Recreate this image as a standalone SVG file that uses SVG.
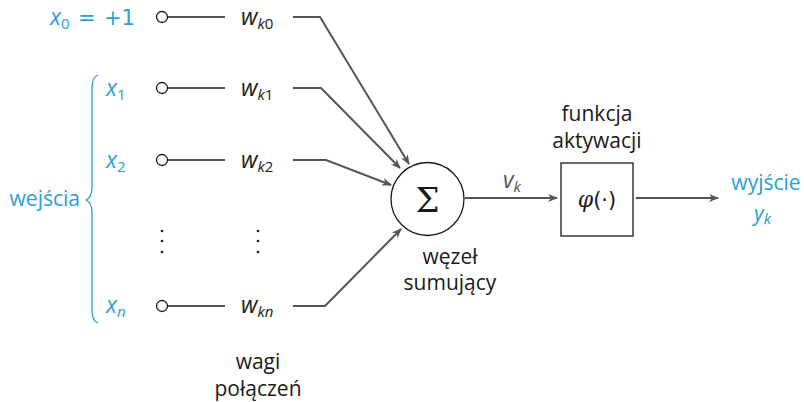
<svg xmlns="http://www.w3.org/2000/svg" width="804" height="402" viewBox="0 0 804 402">
<style>
text{font-family:"Open Sans","DejaVu Sans",sans-serif;font-size:21px;fill:#1a1a1a}
.b{fill:#2a9fd8}
.m{font-style:italic;font-size:23px}
.s{font-size:15px;font-style:italic}
.n{font-style:normal}
.c{text-anchor:middle}
.sym{font-family:"DejaVu Sans",sans-serif;font-size:21px}
.sig{font-family:"DejaVu Serif",serif;font-size:34px}
.phi{font-family:"DejaVu Serif",serif;font-style:italic;font-size:22px}
.ln{stroke:#555;stroke-width:2;fill:none}
.in{stroke:#1a1a1a;stroke-width:1.3;fill:#fff}
</style>
<defs>
<marker id="ah" viewBox="0 0 10 10" refX="9" refY="5" markerWidth="5" markerHeight="5" orient="auto" markerUnits="strokeWidth">
<path d="M0,1 L10,5 L0,9 L3,5 Z" fill="#555"/>
</marker>
</defs>
<g id="inputs">
<text class="b m" x="50" y="25">x<tspan class="s n" dy="4">0</tspan></text>
<text class="b sym" x="78" y="25">=</text>
<text class="b sym" x="104" y="25">+1</text>
<text class="b m" x="106" y="96">x<tspan class="s n" dy="4">1</tspan></text>
<text class="b m" x="106" y="168">x<tspan class="s n" dy="4">2</tspan></text>
<text class="b m" x="106" y="313">x<tspan class="s" dy="4">n</tspan></text>
<text class="b" x="80" y="206" text-anchor="end">wejścia</text>
<path d="M98,75 Q92,77 92,88 L92,188 Q92,197 86,200 Q92,203 92,212 L92,310 Q92,321 98,323" stroke="#2a9fd8" stroke-width="1.3" fill="none"/>
<circle class="in" cx="162" cy="17" r="5.5"/>
<circle class="in" cx="162" cy="88" r="5.5"/>
<circle class="in" cx="162" cy="160" r="5.5"/>
<circle class="in" cx="162" cy="306" r="5.5"/>
<g fill="#1a1a1a"><circle cx="162" cy="231" r="1.3"/><circle cx="162" cy="241" r="1.3"/><circle cx="162" cy="252" r="1.3"/>
<circle cx="258" cy="231" r="1.3"/><circle cx="258" cy="241" r="1.3"/><circle cx="258" cy="252" r="1.3"/></g>
</g>
<g id="weights">
<text class="m" x="241" y="25">w<tspan class="s" dy="4">k</tspan><tspan class="s n">0</tspan></text>
<text class="m" x="241" y="96">w<tspan class="s" dy="4">k</tspan><tspan class="s n">1</tspan></text>
<text class="m" x="241" y="168">w<tspan class="s" dy="4">k</tspan><tspan class="s n">2</tspan></text>
<text class="m" x="241" y="313">w<tspan class="s" dy="4">kn</tspan></text>
<text class="c" x="258" y="369">wagi</text>
<text class="c" x="258" y="396">połączeń</text>
</g>
<g id="sum">
<circle cx="427.5" cy="199" r="36.5" fill="#fff" stroke="#1a1a1a" stroke-width="1.3"/>
<text class="c sig" x="427.5" y="212">Σ</text>
<text class="c" x="450" y="264">węzeł</text>
<text class="c" x="450" y="290">sumujący</text>
</g>
<g id="activation">
<rect x="561" y="163" width="72" height="73" fill="#fff" stroke="#1a1a1a" stroke-width="1.3"/>
<text class="c" x="597" y="207"><tspan class="phi">φ</tspan><tspan class="sym">(·)</tspan></text>
<text class="c" x="597" y="121">funkcja</text>
<text class="c" x="597" y="148">aktywacji</text>
</g>
<g id="output">
<text class="b c" x="766" y="190">wyjście</text>
<text class="b m" x="754" y="221" style="font-size:21px">y<tspan class="s" dy="3">k</tspan></text>
</g>
<g id="connectors">
<path class="ln" d="M168,17 H225 M168,88 H225 M168,160 H225 M168,306 H225"/>
<path class="ln" d="M293,17 H320 L409,164" marker-end="url(#ah)"/>
<path class="ln" d="M293,88 H321 L400,168" marker-end="url(#ah)"/>
<path class="ln" d="M293,160 H326 L391,185" marker-end="url(#ah)"/>
<path class="ln" d="M293,306 H325 L401,229" marker-end="url(#ah)"/>
<path class="ln" d="M465,198 H557" marker-end="url(#ah)"/>
<path class="ln" d="M636,198 H718" marker-end="url(#ah)"/>
<text x="503" y="188" class="m" style="fill:#555">v<tspan class="s" dy="4">k</tspan></text>
</g>
</svg>
